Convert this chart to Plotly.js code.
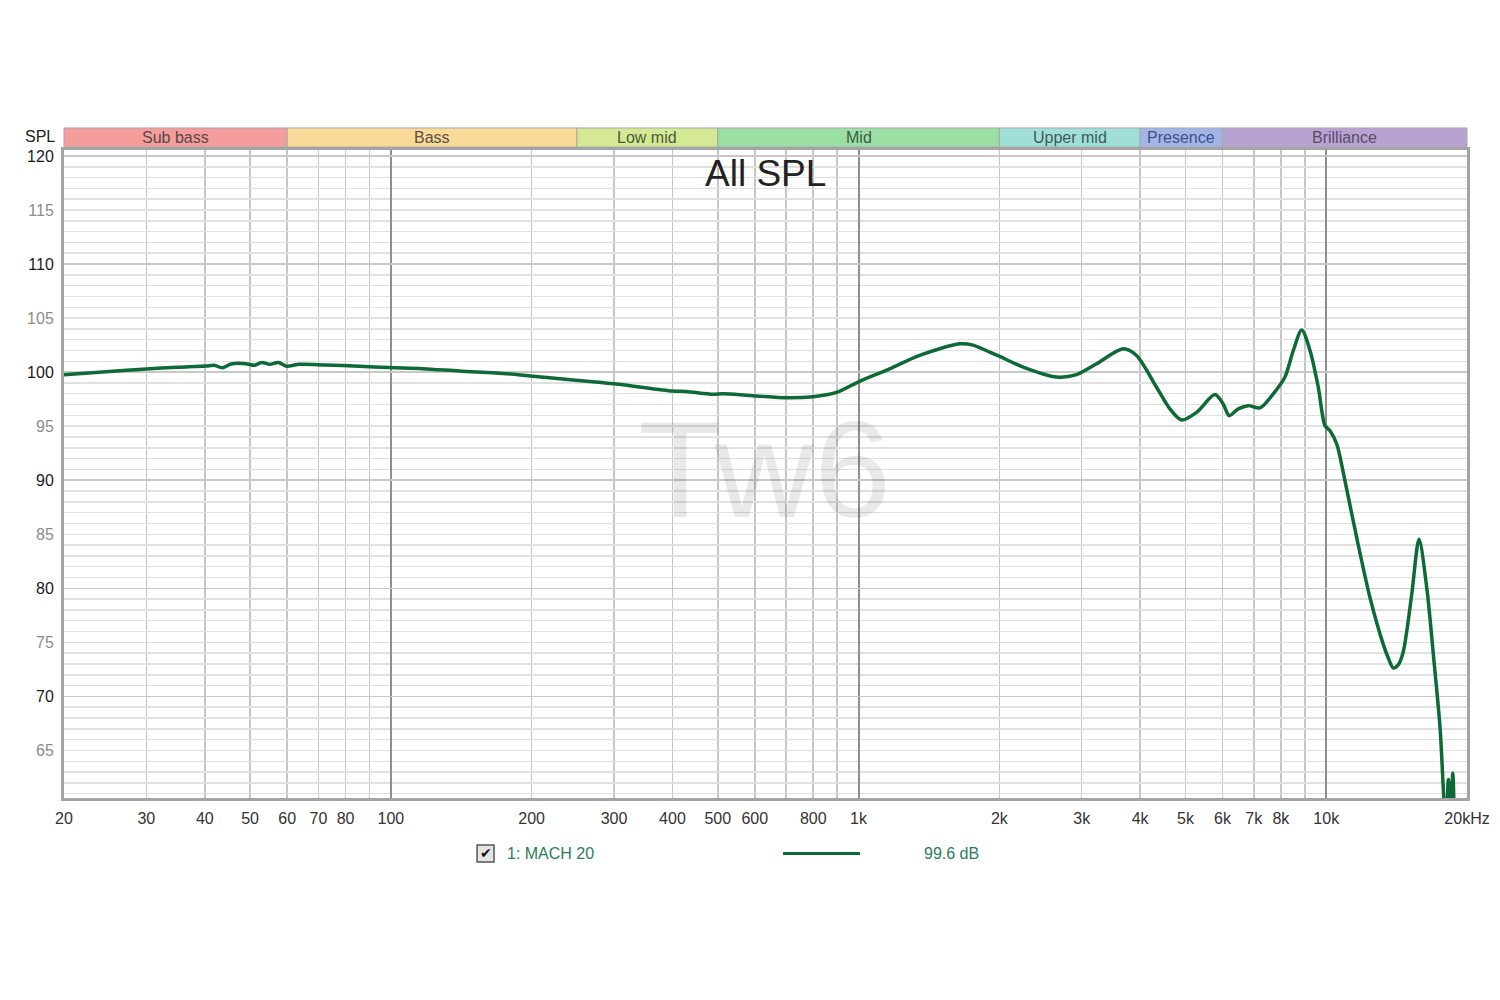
<!DOCTYPE html>
<html>
<head>
<meta charset="utf-8">
<script src="https://cdn.plot.ly/plotly-3.0.1.min.js"></script>
<style>html,body{margin:0;padding:0;background:#fff;}#chart{width:1500px;height:1000px;}</style>
</head>
<body>
<div id="chart"></div>
<script>
// Frequency response (Hz) and SPL (dB)
const freq = [20, 25, 30, 35, 40.2, 41.9, 43.6, 45.5, 49.0, 51.0, 53.0, 55.1, 57.5, 59.8, 63.7, 72.6, 85.6, 99.2, 117, 140, 177, 201, 300, 400, 428, 488, 512, 604, 700, 799, 897, 1005, 1165, 1351, 1646, 1757, 1908, 2004, 2248, 2651, 2925, 3228, 3680, 3930, 4337, 4632, 4906, 5283, 5781, 6021, 6202, 6484, 6812, 7217, 7704, 8162, 8503, 8863, 9233, 9617, 9940, 10187, 10530, 10968, 11620, 12408, 13250, 13575, 13915, 14265, 14620, 15234, 15792, 16406, 16947, 17518, 17865, 18050, 18248, 18450, 18647, 18800];
const spl = [99.75, 100.05, 100.3, 100.45, 100.56, 100.63, 100.4, 100.75, 100.78, 100.63, 100.9, 100.72, 100.9, 100.55, 100.72, 100.65, 100.55, 100.42, 100.32, 100.1, 99.85, 99.62, 98.92, 98.25, 98.2, 97.95, 98.0, 97.8, 97.62, 97.72, 98.12, 99.15, 100.3, 101.55, 102.62, 102.5, 101.85, 101.45, 100.47, 99.55, 99.77, 100.77, 102.16, 101.54, 98.6, 96.6, 95.57, 96.28, 97.92, 97.06, 95.97, 96.6, 96.9, 96.69, 97.99, 99.55, 102.0, 103.9, 102.0, 98.6, 95.05, 94.58, 93.35, 89.94, 84.68, 79.12, 74.79, 73.55, 72.63, 72.94, 74.17, 79.43, 84.53, 80.05, 73.87, 67.06, 60.2, 58.0, 62.3, 58.5, 62.9, 58.0];

// Axis ticks
const xGridFreqs = [20, 30, 40, 50, 60, 70, 80, 90, 100, 200, 300, 400, 500, 600, 700, 800, 900, 1000, 2000, 3000, 4000, 5000, 6000, 7000, 8000, 9000, 10000, 20000];
const xGridLabels = ['20', '30', '40', '50', '60', '70', '80', '', '100', '200', '300', '400', '500', '600', '', '800', '', '1k', '2k', '3k', '4k', '5k', '6k', '7k', '8k', '', '10k', '20kHz'];
const xDecades = [100, 1000, 10000];
const yTenDb = [70, 80, 90, 100, 110, 120];

// Frequency bands
const bandNames = ['Sub bass', 'Bass', 'Low mid', 'Mid', 'Upper mid', 'Presence', 'Brilliance'];
const bandEdges = [20, 60, 250, 500, 2000, 4000, 6000, 20000];
const bandColors = ['#f59c9c', '#f9da98', '#d5e995', '#9cdfa5', '#9fdfd7', '#a3b5e6', '#b7a2d2'];
const bandTextColors = ['#5a4848', '#5a5040', '#4a5a3a', '#3f5a45', '#3f5a58', '#3f4f8a', '#5a4e66'];

// Legend
const seriesName = '1: MACH 20';
const seriesLevel = '99.6 dB';

const lg = Math.log10;
const xMinHz = 20, xMaxHz = 20000;
const yMin = 60.6, yMax = 120.55;
const fracX = f => (lg(f) - lg(xMinHz)) / (lg(xMaxHz) - lg(xMinHz));

const yTickVals = [], yTickText = [];
for (let v = 61; v <= 120; v++) {
  yTickVals.push(v);
  if (v % 10 === 0) yTickText.push('<span style="color:#1a1a1a">' + v + '</span>');
  else if (v % 5 === 0) yTickText.push('<span style="color:#8c8c8c">' + v + '</span>');
  else yTickText.push('');
}

const font = 'Liberation Sans, Arial, sans-serif';
const curveColor = '#0d6a36';

const shapes = [];
const annotations = [];
bandNames.forEach((name, i) => {
  shapes.push({type: 'rect', xref: 'paper', yref: 'paper', x0: fracX(bandEdges[i]), x1: fracX(bandEdges[i + 1]),
    y0: 1.0046, y1: 1.034, fillcolor: bandColors[i], line: {color: '#a8a8a8', width: 1}, layer: 'above'});
  annotations.push({xref: 'paper', yref: 'paper', x: (fracX(bandEdges[i]) + fracX(bandEdges[i + 1])) / 2, y: 1.0195,
    text: name, showarrow: false, xanchor: 'center', yanchor: 'middle',
    font: {family: font, size: 16, color: bandTextColors[i]}});
});

// Title, axis label, watermark
annotations.push({xref: 'paper', yref: 'paper', x: 0.5, y: 0.963, text: 'All SPL', showarrow: false,
  xanchor: 'center', yanchor: 'middle', font: {family: font, size: 37, color: '#222'}});
annotations.push({xref: 'paper', yref: 'paper', x: -0.017, y: 1.0216, text: 'SPL', showarrow: false,
  xanchor: 'center', yanchor: 'middle', font: {family: font, size: 16, color: '#222'}});
annotations.push({xref: 'paper', yref: 'paper', x: 0.499, y: 0.508, text: 'Tw6', showarrow: false,
  xanchor: 'center', yanchor: 'middle', font: {family: font, size: 138, color: 'rgba(0,0,0,0.085)'}});

// Legend row
shapes.push({type: 'rect', xref: 'paper', yref: 'paper', x0: 0.2944, x1: 0.3065, y0: -0.0988, y1: -0.0725,
  fillcolor: '#e4e4e4', line: {color: '#555', width: 1.5}});
annotations.push({xref: 'paper', yref: 'paper', x: 0.3005, y: -0.0856, text: '✔', showarrow: false,
  xanchor: 'center', yanchor: 'middle', font: {family: 'DejaVu Sans', size: 14, color: '#111'}});
annotations.push({xref: 'paper', yref: 'paper', x: 0.3143, y: -0.0856, text: seriesName, showarrow: false,
  xanchor: 'left', yanchor: 'middle', font: {family: font, size: 16, color: '#2b7d5a'}});
shapes.push({type: 'line', xref: 'paper', yref: 'paper', x0: 0.5125, x1: 0.5674, y0: -0.0856, y1: -0.0856,
  line: {color: curveColor, width: 3}});
annotations.push({xref: 'paper', yref: 'paper', x: 0.6115, y: -0.0856, text: seriesLevel, showarrow: false,
  xanchor: 'left', yanchor: 'middle', font: {family: font, size: 16, color: '#2b7d5a'}});

const traces = [
  {x: [], y: [], xaxis: 'x2', yaxis: 'y2', type: 'scatter', mode: 'lines', showlegend: false, hoverinfo: 'skip'},
  {x: freq, y: spl, type: 'scatter', mode: 'lines', name: seriesName,
   line: {color: curveColor, width: 3.5, shape: 'spline', smoothing: 0.8}}
];

const layout = {
  width: 1500, height: 1000,
  margin: {l: 64, r: 33, t: 150, b: 202},
  paper_bgcolor: '#fff', plot_bgcolor: '#fff',
  showlegend: false,
  font: {family: font, size: 16, color: '#333'},
  xaxis: {type: 'log', range: [lg(xMinHz), lg(xMaxHz)], tickmode: 'array', tickvals: xGridFreqs, ticktext: xGridLabels,
    showgrid: true, gridcolor: '#c6c6c6', gridwidth: 1.5, zeroline: false, ticks: '',
    showline: true, linecolor: '#a4a4a4', linewidth: 3, mirror: true,
    tickfont: {family: font, size: 16, color: '#333'}, ticklabelstandoff: 4},
  yaxis: {range: [yMin, yMax], tickmode: 'array', tickvals: yTickVals, ticktext: yTickText,
    showgrid: true, gridcolor: '#e0e0e0', gridwidth: 1.5, zeroline: false, ticks: '',
    showline: true, linecolor: '#a4a4a4', linewidth: 3, mirror: true,
    tickfont: {family: font, size: 16, color: '#1a1a1a'}, ticklabelstandoff: 4},
  xaxis2: {type: 'log', overlaying: 'x', range: [lg(xMinHz), lg(xMaxHz)], tickmode: 'array', tickvals: xDecades,
    showticklabels: false, showgrid: true, gridcolor: '#8e8e8e', gridwidth: 2, zeroline: false, ticks: '', showline: false},
  yaxis2: {overlaying: 'y', range: [yMin, yMax], tickmode: 'array', tickvals: yTenDb,
    showticklabels: false, showgrid: true, gridcolor: '#c8c8c8', gridwidth: 1.5, zeroline: false, ticks: '', showline: false},
  shapes: shapes,
  annotations: annotations
};

Plotly.newPlot('chart', traces, layout, {displayModeBar: false, staticPlot: true});
</script>
</body>
</html>
